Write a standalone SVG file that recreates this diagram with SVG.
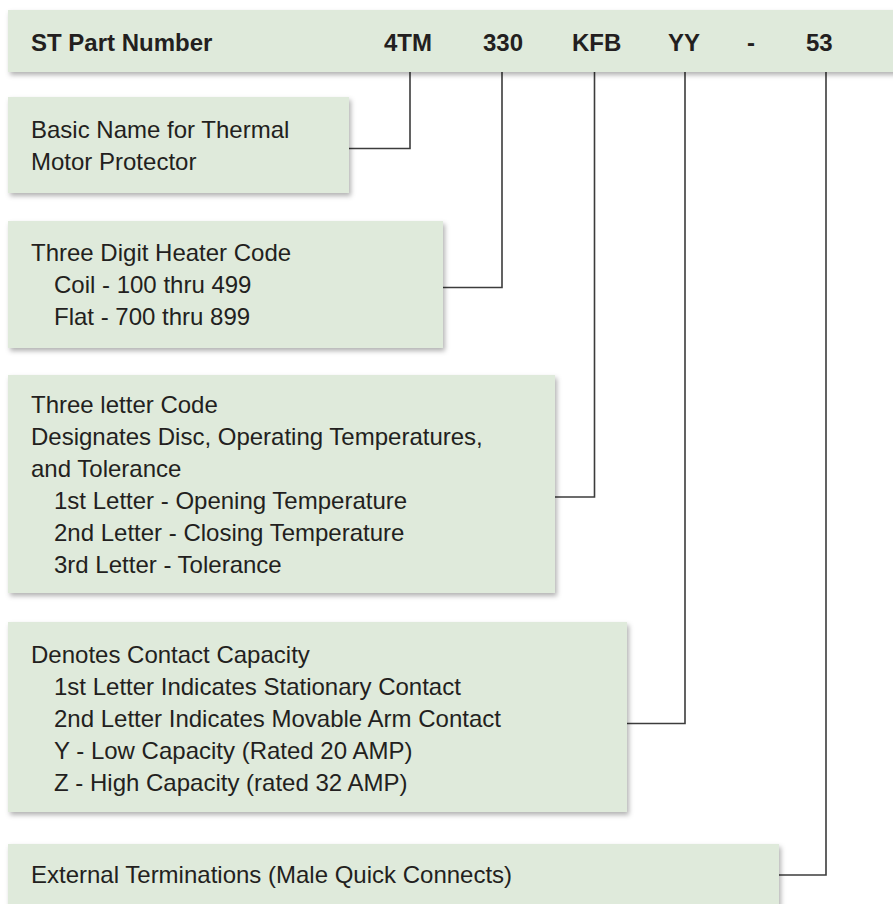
<svg xmlns="http://www.w3.org/2000/svg" width="893" height="904" viewBox="0 0 893 904">
  <defs>
    <filter id="shadow" x="-5%" y="-10%" width="115%" height="130%">
      <feDropShadow dx="2" dy="3" stdDeviation="2.5" flood-color="#000" flood-opacity="0.3"/>
    </filter>
  </defs>
  <style>
    .box { fill: #dfeadb; filter: url(#shadow); }
    .t { font-family: "Liberation Sans", Arial, Helvetica, sans-serif; font-size: 24px; fill: #231f20; }
    .b { font-weight: bold; }
    .conn { fill: none; stroke: #3c3c3c; stroke-width: 1.6; }
  </style>
  <rect width="893" height="904" fill="#ffffff"/>

  <g id="connectors">
    <path class="conn" d="M410 72 V148.5 H349"/>
    <path class="conn" d="M502 72 V287.5 H443"/>
    <path class="conn" d="M594.5 72 V497 H555"/>
    <path class="conn" d="M685 72 V723.5 H627"/>
    <path class="conn" d="M826 72 V875 H779"/>
  </g>

  <g id="header">
    <rect class="box" x="8" y="10" width="900" height="62"/>
    <text class="t b" x="31" y="51">ST Part Number</text>
    <text class="t b" x="384" y="51">4TM</text>
    <text class="t b" x="483" y="51">330</text>
    <text class="t b" x="572" y="51">KFB</text>
    <text class="t b" x="668" y="51">YY</text>
    <text class="t b" x="747" y="51">-</text>
    <text class="t b" x="806" y="51">53</text>
  </g>

  <g id="box-basic-name">
    <rect class="box" x="8" y="97" width="341" height="96"/>
    <text class="t" x="31" y="138">Basic Name for Thermal</text>
    <text class="t" x="31" y="170">Motor Protector</text>
  </g>

  <g id="box-heater-code">
    <rect class="box" x="8" y="221" width="435" height="127"/>
    <text class="t" x="31" y="261">Three Digit Heater Code</text>
    <text class="t" x="54" y="293">Coil - 100 thru 499</text>
    <text class="t" x="54" y="325">Flat - 700 thru 899</text>
  </g>

  <g id="box-letter-code">
    <rect class="box" x="8" y="375" width="547" height="218"/>
    <text class="t" x="31" y="413">Three letter Code</text>
    <text class="t" x="31" y="445">Designates Disc, Operating Temperatures,</text>
    <text class="t" x="31" y="477">and Tolerance</text>
    <text class="t" x="54" y="509">1st Letter - Opening Temperature</text>
    <text class="t" x="54" y="541">2nd Letter - Closing Temperature</text>
    <text class="t" x="54" y="573">3rd Letter - Tolerance</text>
  </g>

  <g id="box-contact-capacity">
    <rect class="box" x="8" y="622" width="619" height="190"/>
    <text class="t" x="31" y="663">Denotes Contact Capacity</text>
    <text class="t" x="54" y="695">1st Letter Indicates Stationary Contact</text>
    <text class="t" x="54" y="727">2nd Letter Indicates Movable Arm Contact</text>
    <text class="t" x="54" y="759">Y - Low Capacity (Rated 20 AMP)</text>
    <text class="t" x="54" y="791">Z - High Capacity (rated 32 AMP)</text>
  </g>

  <g id="box-terminations">
    <rect class="box" x="8" y="844" width="771" height="80"/>
    <text class="t" x="31" y="883">External Terminations (Male Quick Connects)</text>
  </g>
</svg>
